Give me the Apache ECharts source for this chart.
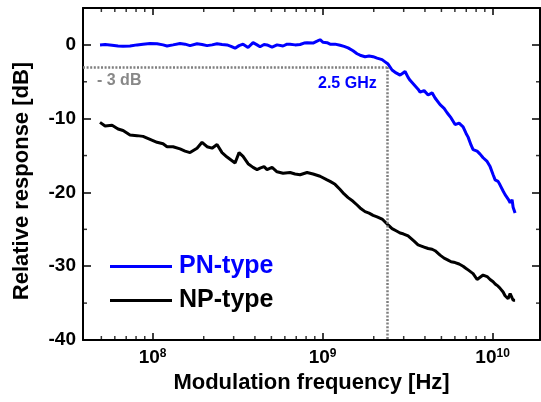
<!DOCTYPE html>
<html>
<head>
<meta charset="utf-8">
<script src="https://cdn.jsdelivr.net/npm/echarts@6/dist/echarts.min.js"></script>
<style>html,body{margin:0;padding:0;background:#fff}#c{width:541px;height:402px}</style>
</head>
<body>
<div id="c"></div>
<script>
// ---- data (frequency in Hz, response in dB) ----
const freqPN = [4.91e7,5.26e7,5.78e7,6.27e7,6.71e7,7.37e7,8.11e7,8.79e7,9.67e7,1.063e8,1.153e8,1.217e8,1.320e8,1.451e8,1.553e8,1.662e8,1.827e8,1.955e8,2.092e8,2.239e8,2.395e8,2.563e8,2.743e8,2.896e8,3.057e8,3.227e8,3.407e8,3.646e8,3.901e8,4.119e8,4.289e8,4.528e8,4.715e8,5.046e8,5.399e8,5.856e8,6.183e8,6.439e8,6.890e8,7.373e8,7.784e8,8.106e8,8.793e8,9.283e8,9.667e8,1.007e9,1.063e9,1.107e9,1.184e9,1.268e9,1.338e9,1.413e9,1.511e9,1.596e9,1.662e9,1.778e9,1.877e9,1.982e9,2.092e9,2.239e9,2.332e9,2.428e9,2.563e9,2.706e9,2.857e9,2.975e9,3.057e9,3.184e9,3.271e9,3.453e9,3.645e9,3.745e9,3.954e9,4.175e9,4.407e9,4.589e9,4.911e9,5.185e9,5.399e9,5.701e9,6.017e9,6.353e9,6.706e9,6.984e9,7.177e9,7.473e9,7.680e9,8.106e9,8.442e9,8.793e9,9.283e9,9.667e9,1.007e10,1.035e10,1.077e10,1.107e10,1.153e10,1.184e10,1.234e10,1.268e10,1.302e10,1.320e10,1.356e10];
const dbPN = [0.0,0.05,-0.05,-0.15,-0.2,-0.15,0.0,0.1,0.2,0.15,0.0,-0.15,0.0,0.2,0.1,-0.1,0.15,0.05,-0.1,0.0,0.15,0.05,0.0,-0.2,-0.45,-0.1,0.1,-0.35,0.3,0.0,-0.25,0.05,0.0,-0.3,0.0,-0.15,0.1,0.1,0.0,0.05,0.25,0.3,0.25,0.5,0.7,0.35,0.3,0.1,0.1,-0.05,-0.2,-0.4,-0.8,-1.2,-1.4,-1.6,-1.5,-1.6,-1.8,-2.0,-2.3,-2.6,-3.4,-3.8,-4.1,-3.8,-3.6,-4.4,-4.8,-5.4,-6.0,-6.4,-6.2,-6.8,-6.5,-7.2,-8.1,-8.6,-9.2,-9.9,-10.8,-10.6,-11.1,-12.0,-12.5,-13.6,-14.2,-14.4,-14.8,-15.3,-15.8,-16.5,-17.6,-18.3,-18.5,-19.0,-19.8,-20.3,-20.9,-21.4,-21.0,-22.0,-22.8];

const freqNP = [4.91e7,5.26e7,5.78e7,6.27e7,6.71e7,7.37e7,8.11e7,8.79e7,9.67e7,1.063e8,1.153e8,1.217e8,1.320e8,1.451e8,1.553e8,1.662e8,1.827e8,1.955e8,2.092e8,2.239e8,2.395e8,2.563e8,2.743e8,2.896e8,3.057e8,3.227e8,3.407e8,3.646e8,3.901e8,4.119e8,4.289e8,4.528e8,4.715e8,5.046e8,5.399e8,5.856e8,6.439e8,6.890e8,7.373e8,8.106e8,8.793e8,9.667e8,1.063e9,1.107e9,1.184e9,1.268e9,1.338e9,1.413e9,1.511e9,1.596e9,1.662e9,1.778e9,1.877e9,1.982e9,2.092e9,2.239e9,2.332e9,2.428e9,2.563e9,2.706e9,2.857e9,2.975e9,3.184e9,3.271e9,3.453e9,3.645e9,3.745e9,3.954e9,4.175e9,4.407e9,4.589e9,4.911e9,5.185e9,5.399e9,5.701e9,6.017e9,6.353e9,6.706e9,6.984e9,7.177e9,7.473e9,7.680e9,8.106e9,8.442e9,8.793e9,9.283e9,9.667e9,1.007e10,1.035e10,1.077e10,1.107e10,1.153e10,1.184e10,1.234e10,1.268e10,1.302e10,1.320e10,1.356e10];
const dbNP = [-10.5,-11.0,-10.9,-11.4,-11.6,-12.2,-12.3,-12.4,-12.8,-13.2,-13.4,-13.8,-13.8,-14.1,-14.4,-14.6,-14.0,-13.2,-13.8,-14.0,-13.5,-14.6,-15.2,-15.6,-16.0,-14.6,-15.1,-16.1,-16.6,-16.9,-16.7,-16.5,-16.9,-16.6,-17.2,-17.4,-17.3,-17.5,-17.6,-17.3,-17.5,-17.8,-18.3,-18.5,-18.9,-19.6,-20.2,-20.7,-21.2,-21.7,-22.1,-22.6,-22.8,-23.1,-23.3,-23.6,-24.0,-24.4,-24.9,-25.2,-25.5,-25.6,-25.9,-26.1,-26.6,-27.1,-27.2,-27.4,-27.6,-27.7,-27.9,-28.5,-28.9,-29.1,-29.4,-29.5,-29.7,-30.0,-30.3,-30.5,-30.8,-31.0,-31.8,-31.5,-31.2,-31.4,-31.8,-32.1,-32.4,-32.7,-33.0,-33.5,-34.0,-34.4,-33.7,-34.3,-34.6,-34.6];

const xMinorTicks = [5e7,6e7,7e7,8e7,9e7,2e8,3e8,4e8,5e8,6e8,7e8,8e8,9e8,2e9,3e9,4e9,5e9,6e9,7e9,8e9,9e9];
const yMinorTicks = [-35,-25,-15,-5];
const cutoffFreq = 2.4e9;
const cutoffLevel = -3;
const xMin = 3.9e7, xMax = 1.9e10, yMin = -40, yMax = 5;
const seriesNames = ['PN-type', 'NP-type'];
const annotations = ['- 3 dB', '2.5 GHz'];
const yTitle = 'Relative response [dB]';
const xTitle = 'Modulation frequency [Hz]';

// ---- chart ----
const FONT = '"Liberation Sans", Arial, sans-serif';
const BLUE = '#0000ff';
const chart = echarts.init(document.getElementById('c'), null, {renderer: 'canvas'});

const pn = freqPN.map((f, i) => [f, dbPN[i]]);
const np = freqNP.map((f, i) => [f, dbNP[i]]);

function logLabel(v) {
  const lg = Math.log10(v);
  const e = Math.round(lg);
  if (Math.abs(lg - e) > 1e-6) return '';
  return '{a|10}{b|' + e + '}';
}

const axisLineStyle = {show: true, onZero: false, lineStyle: {color: '#000', width: 2}};
const majorTick = (len) => ({show: true, inside: true, length: len, lineStyle: {color: '#000', width: 1.5}});

const tickSeries = (data, size, offset) => ({
  type: 'scatter', data: data, symbol: 'rect', symbolSize: size, symbolOffset: offset,
  itemStyle: {color: '#000'}, silent: true, clip: false, z: 5
});

chart.setOption({
  animation: false,
  textStyle: {fontFamily: FONT},
  grid: {left: 83, right: 1, top: 8, bottom: 62},
  xAxis: [
    {
      type: 'log', logBase: 10, min: xMin, max: xMax, position: 'bottom',
      axisLine: axisLineStyle, axisTick: majorTick(7), splitLine: {show: false},
      axisLabel: {
        formatter: logLabel, margin: 8, showMinLabel: false, showMaxLabel: false,
        rich: {
          a: {fontSize: 19, fontWeight: 'bold', color: '#000', fontFamily: FONT},
          b: {fontSize: 12, fontWeight: 'bold', color: '#000', fontFamily: FONT, verticalAlign: 'top'}
        }
      },
      name: xTitle, nameLocation: 'middle', nameGap: 29,
      nameTextStyle: {fontSize: 22, fontWeight: 'bold', color: '#000', fontFamily: FONT}
    },
    {
      type: 'log', logBase: 10, min: xMin, max: xMax, position: 'top',
      axisLine: axisLineStyle, axisTick: majorTick(7), splitLine: {show: false},
      axisLabel: {show: false}
    }
  ],
  yAxis: [
    {
      type: 'value', min: yMin, max: yMax, interval: 10, position: 'left',
      axisLine: axisLineStyle, axisTick: majorTick(8), splitLine: {show: false},
      axisLabel: {formatter: v => (v > 0 ? '' : String(v)), fontSize: 19, fontWeight: 'bold', color: '#000', margin: 7}
    },
    {
      type: 'value', min: yMin, max: yMax, interval: 10, position: 'right',
      axisLine: axisLineStyle, axisTick: majorTick(8), splitLine: {show: false},
      axisLabel: {show: false}
    }
  ],
  legend: {
    orient: 'vertical', left: 110, top: 254, padding: 0, itemWidth: 62, itemHeight: 3, itemGap: 9,
    icon: 'rect', selectedMode: false,
    textStyle: {fontSize: 25, fontWeight: 'bold', fontFamily: FONT, padding: [0, 0, 0, 2]},
    data: [
      {name: seriesNames[0], textStyle: {color: BLUE}},
      {name: seriesNames[1], textStyle: {color: '#000'}}
    ]
  },
  series: [
    {
      name: seriesNames[1], type: 'line', data: np, showSymbol: false, symbol: 'none',
      lineStyle: {color: '#000', width: 3}, itemStyle: {color: '#000'}, z: 3
    },
    {
      name: seriesNames[0], type: 'line', data: pn, showSymbol: false, symbol: 'none',
      lineStyle: {color: BLUE, width: 3}, itemStyle: {color: BLUE}, z: 4,
      markLine: {
        silent: true, symbol: ['none', 'none'], label: {show: false},
        lineStyle: {color: '#7f7f7f', type: [2, 1.6], width: 2.5},
        data: [
          [{coord: [xMin, cutoffLevel]}, {coord: [cutoffFreq, cutoffLevel]}],
          [{coord: [cutoffFreq, cutoffLevel]}, {coord: [cutoffFreq, yMin]}]
        ]
      }
    },
    tickSeries(xMinorTicks.map(f => [f, yMin]), [1.5, 4], [0, -2]),
    tickSeries(xMinorTicks.map(f => [f, yMax]), [1.5, 4], [0, 2]),
    tickSeries(yMinorTicks.map(v => [xMin, v]), [4, 1.5], [2, 0]),
    tickSeries(yMinorTicks.map(v => [xMax, v]), [4, 1.5], [-2, 0])
  ],
  graphic: [
    {type: 'text', x: 22, y: 181, rotation: Math.PI / 2, silent: true,
     style: {text: yTitle, fill: '#000', font: 'bold 22px ' + FONT, align: 'center', verticalAlign: 'middle'}},
    {type: 'text', left: 97, top: 73, silent: true,
     style: {text: annotations[0], fill: '#888888', font: 'bold 16px ' + FONT}},
    {type: 'text', left: 318, top: 76, silent: true,
     style: {text: annotations[1], fill: BLUE, font: 'bold 16px ' + FONT}}
  ]
});
</script>
</body>
</html>
